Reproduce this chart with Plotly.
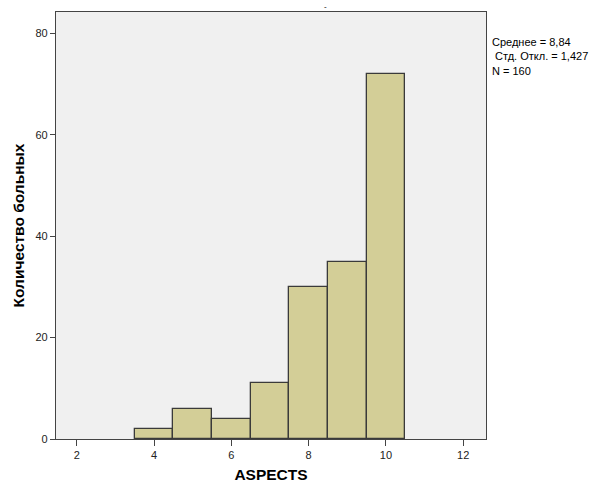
import plotly.graph_objects as go

aspects = [4, 5, 6, 7, 8, 9, 10]
counts = [2, 6, 4, 11, 30, 35, 72]
x_ticks = [2, 4, 6, 8, 10, 12]
y_ticks = [0, 20, 40, 60, 80]
stats_lines = ["Среднее = 8,84", " Стд. Откл. = 1,427", "N = 160"]

FONT = "Liberation Sans, Arial, sans-serif"
PLOT_H = 483 - 12 - 44
PLOT_W = 592 - 56 - 106

fig = go.Figure()
fig.add_trace(go.Bar(
    x=aspects, y=counts, width=1,
    marker=dict(color="#D3CE97", line=dict(color="#3A3A3A", width=1.3)),
    hoverinfo="x+y",
))

fig.update_layout(
    width=592, height=483,
    margin=dict(l=56, r=106, t=12, b=44),
    paper_bgcolor="white",
    plot_bgcolor="#F0F0F0",
    showlegend=False,
    bargap=0,
    font=dict(family=FONT, size=11, color="#222"),
    xaxis=dict(
        range=[1.46, 12.59], tickvals=x_ticks, automargin=False,
        showgrid=False, zeroline=False,
        showline=True, linecolor="#444", linewidth=1.3, mirror=True,
        ticks="outside", ticklen=6, tickcolor="#444", tickwidth=1.3,
        tickfont=dict(size=11, color="#222"),
        title=dict(text="<b>ASPECTS</b>", font=dict(size=15.5, color="#000"), standoff=14),
    ),
    yaxis=dict(
        range=[0, 84.2], tickvals=y_ticks, automargin=False,
        showgrid=False, zeroline=False,
        showline=True, linecolor="#444", linewidth=1.3, mirror=True,
        ticks="outside", ticklen=5, tickcolor="#444", tickwidth=1.3,
        tickfont=dict(size=11, color="#222"),
        title=dict(text="<b>Количество больных</b>", font=dict(size=15.5, color="#000"), standoff=6),
    ),
)

fig.add_annotation(
    xref="paper", yref="paper", x=1.0, xshift=4, y=1.0, yshift=-(34 - 12),
    text="<br>".join(stats_lines), showarrow=False,
    xanchor="left", yanchor="top", align="left",
    font=dict(size=11, color="#000", family=FONT),
)
fig.add_annotation(
    xref="paper", yref="paper", x=(325 - 56) / PLOT_W, y=1.0, yshift=6,
    text="-", showarrow=False, xanchor="center", yanchor="middle",
    font=dict(size=8, color="#000", family=FONT),
)

fig.write_html("out.html")
